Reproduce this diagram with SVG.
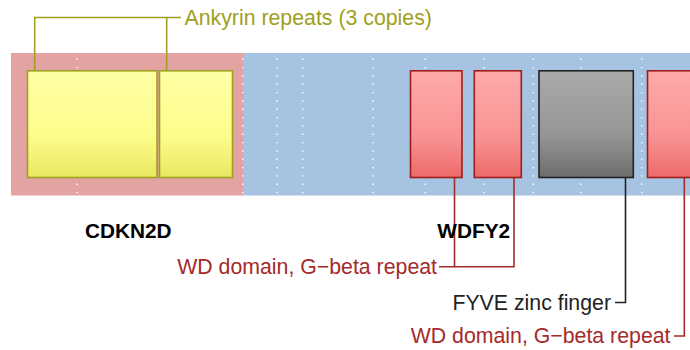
<svg xmlns="http://www.w3.org/2000/svg" width="690" height="350" viewBox="0 0 690 350">
<style>
.t{font-family:"Liberation Sans",Arial,sans-serif;font-size:21.3px}
.b{font-weight:bold;fill:#000;text-anchor:middle;font-size:20.8px}
.dot{stroke:#fff;stroke-width:1.4;stroke-dasharray:1.4 6.93;fill:none}
.yel{fill:url(#gy);stroke:#a0a020;stroke-width:1.6}
.red{fill:url(#gr);stroke:#a01c1c;stroke-width:1.6}
.gry{fill:url(#gg);stroke:#222;stroke-width:1.6}
.lo{stroke:#a0a020;stroke-width:1.6;fill:none}
.lr{stroke:#a52a2a;stroke-width:1.6;fill:none}
.lk{stroke:#222;stroke-width:1.6;fill:none}
</style>
<defs>
<linearGradient id="gy" x1="0" y1="0" x2="0" y2="1"><stop offset="0" stop-color="#ffffa6"/><stop offset="0.6" stop-color="#fdfd8c"/><stop offset="1" stop-color="#e8e862"/></linearGradient>
<linearGradient id="gr" x1="0" y1="0" x2="0" y2="1"><stop offset="0" stop-color="#fdaaaa"/><stop offset="0.6" stop-color="#f99494"/><stop offset="1" stop-color="#ec6a6a"/></linearGradient>
<linearGradient id="gg" x1="0" y1="0" x2="0" y2="1"><stop offset="0" stop-color="#aaaaaa"/><stop offset="0.6" stop-color="#969696"/><stop offset="1" stop-color="#6c6c6c"/></linearGradient>
</defs>
<g id="background">
<rect x="11" y="53" width="232" height="142.5" fill="#e3a3a3"/>
<rect x="243" y="53" width="447" height="142.5" fill="#a7c3e2"/>
<g id="gridlines">
<line class="dot" x1="77" y1="58.6" x2="77" y2="195"/>
<line class="dot" x1="242.7" y1="58.6" x2="242.7" y2="195"/>
<line class="dot" x1="277" y1="58.6" x2="277" y2="195"/>
<line class="dot" x1="302.7" y1="58.6" x2="302.7" y2="195"/>
<line class="dot" x1="373" y1="58.6" x2="373" y2="195"/>
<line class="dot" x1="425.3" y1="58.6" x2="425.3" y2="195"/>
<line class="dot" x1="484.3" y1="58.6" x2="484.3" y2="195"/>
<line class="dot" x1="533.3" y1="58.6" x2="533.3" y2="195"/>
<line class="dot" x1="580.7" y1="58.6" x2="580.7" y2="195"/>
<line class="dot" x1="641.7" y1="58.6" x2="641.7" y2="195"/>
</g>
</g>
<g id="connectors">
<polyline class="lo" points="34.7,71 34.7,17.5 181,17.5"/>
<line class="lo" x1="166.7" y1="17.5" x2="166.7" y2="71"/>
<polyline class="lr" points="454.5,177 454.5,266.7 439,266.7"/>
<polyline class="lr" points="514,177 514,266.7 454.5,266.7"/>
<polyline class="lk" points="625.5,177 625.5,302.5 615,302.5"/>
<polyline class="lr" points="684.3,177 684.3,336 674,336"/>
</g>
<g id="ankyrin1"><rect class="yel" x="27.5" y="70.8" width="129.5" height="106.7"/></g>
<g id="ankyrin2"><rect class="yel" x="159.5" y="70.8" width="73" height="106.7"/></g>
<g id="wd1"><rect class="red" x="410.5" y="70.8" width="51.5" height="106.7"/></g>
<g id="wd2"><rect class="red" x="474.3" y="70.8" width="47" height="106.7"/></g>
<g id="fyve"><rect class="gry" x="539" y="70.8" width="94.3" height="106.7"/></g>
<g id="wd3"><rect class="red" x="647.5" y="70.8" width="60" height="106.7"/></g>
<g id="labels">
<text class="t" x="184.5" y="25" fill="#a0a020">Ankyrin repeats (3 copies)</text>
<text class="t b" x="128.3" y="238.3">CDKN2D</text>
<text class="t b" x="473.7" y="238.3">WDFY2</text>
<text class="t" x="437" y="274" fill="#a52a2a" text-anchor="end">WD domain, G−beta repeat</text>
<text class="t" x="611" y="310" fill="#222" text-anchor="end">FYVE zinc finger</text>
<text class="t" x="670.5" y="343" fill="#a52a2a" text-anchor="end">WD domain, G−beta repeat</text>
</g>
</svg>
